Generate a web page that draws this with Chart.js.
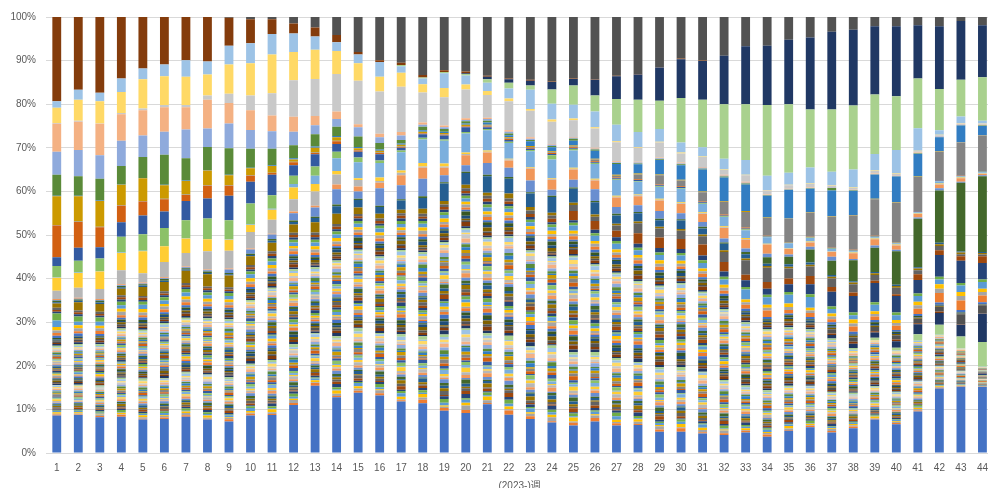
<!DOCTYPE html>
<html><head><meta charset="utf-8">
<style>
html,body{margin:0;padding:0;background:#fff;overflow:hidden;width:988px;height:488px}
#wrap{position:absolute;left:0;top:0;width:997px;height:488px}
</style>
<script src="https://cdn.jsdelivr.net/npm/chart.js@4.4.0/dist/chart.umd.min.js"></script>
</head><body><div id="wrap"><canvas id="c" width="997" height="488"></canvas></div>
<script>
// ---- categories & tick labels ----
const weeks = ['1','2','3','4','5','6','7','8','9','10','11','12','13','14','15','16','17','18','19','20','21','22','23','24','25','26','27','28','29','30','31','32','33','34','35','36','37','38','39','40','41','42','43','44'];
const yTickLabels = ['0%','10%','20%','30%','40%','50%','60%','70%','80%','90%','100%'];
const xTitle = '(2023-)週';

// ---- series read as percent of each week ----
const base = [8.6,8.7,8.2,8.3,7.7,7.8,8.3,7.7,7.2,8.6,8.7, 11.0,15.4,12.8,13.8,13.2,11.8,11.4,9.7,9.2,11.2,8.8, 7.8,7.0,6.3,7.2,6.3,6.4,4.9,4.9,4.5,4.1,4.7, 3.7,5.1,5.9,4.7,5.7,7.7,6.6,9.5,14.8,15.2,15.2];

const s30 = [0.4,0.4,0.4,0.4,0.4,0.4,0.4,0.4,0.4,0.4,0.4, 0.4,0.4,0.4,0.4,0.4,0.4,0.4,0.4,0.4,0.4,0.4, 0.4,0.4,0.4,0.4,0.4,0.4,0.4,0.4,0.4,0.4,0.4, 0.4,0.4,0.4,0.4,0.4,0.5,0.6,1.5,2.3,2.7,5.7];
const s31 = [0.4,0.4,0.4,0.4,0.4,0.4,0.4,0.4,0.4,0.4,0.4, 0.4,0.4,0.4,0.4,0.4,0.4,0.4,0.4,0.4,0.4,0.4, 0.4,0.4,0.4,0.4,0.4,0.4,0.4,0.4,0.4,0.4,0.4, 0.4,0.4,0.4,0.8,1.0,1.2,1.5,2.3,2.7,2.7,6.5];
const s33 = [0.4,0.4,0.4,0.4,0.4,0.4,0.4,0.4,0.4,0.4,0.4, 0.4,0.4,0.4,0.4,0.4,0.4,0.4,0.4,0.4,0.4,0.4, 0.4,0.4,0.4,0.4,0.4,0.4,0.4,0.4,0.4,0.4,0.4, 0.4,0.4,0.4,1.0,1.0,1.0,1.0,1.0,1.0,2.3,1.9];

const m1 = [0.5,0.6,0.5,0.4,0.6,0.5,0.5,0.6,0.4,0.5,0.6, 0.5,0.5,0.4,0.6,0.5,0.5,0.6,0.5,0.4,0.5,0.6, 0.5,0.5,0.4,0.6,0.5,0.5,0.6,0.4,0.5,0.5,0.6, 0.5,0.4,0.5,0.6,0.5,0.5,0.4,0.5,0.5,0.6,0.5];
const m2 = [0.6,0.5,0.7,0.6,0.5,0.6,0.7,0.5,0.6,0.6,0.5, 0.7,0.6,0.5,0.6,0.7,0.5,0.6,0.6,0.5,0.7,0.6, 0.5,0.6,0.8,0.7,0.6,0.8,0.7,0.6,0.8,0.7,0.9, 1.5,0.8,0.9,0.7,1.2,0.8,1.0,1.2,2.2,2.2,1.5];
const m3 = [0.6,0.7,0.6,0.8,0.6,0.7,0.6,0.6,0.7,0.6,0.8, 0.6,0.7,0.6,0.6,0.7,0.6,0.8,0.6,0.7,0.6,0.6, 0.7,0.6,0.6,0.7,0.6,0.6,0.7,0.6,0.6,0.7,0.6, 0.6,0.7,0.6,0.6,0.7,0.6,0.6,0.8,1.0,1.0,0.8];
const m4 = [0.8,0.7,0.6,0.7,0.8,0.6,0.7,0.7,0.6,0.8,0.7, 0.6,0.7,0.8,0.6,0.7,0.6,0.7,0.8,0.6,0.7,0.7, 0.6,0.8,0.7,0.6,0.7,0.6,0.8,0.7,0.6,0.7,0.6, 0.7,0.8,0.6,0.7,0.9,0.6,0.7,0.8,1.0,0.9,0.8];
const m5 = [1.5,0.8,0.9,0.8,1.0,0.8,0.9,0.8,0.8,0.9,0.8, 0.8,0.9,0.8,0.8,0.9,0.8,0.9,0.8,0.8,0.9,0.8, 0.9,0.8,1.2,1.2,1.3,1.1,1.2,1.2,1.3,1.2,2.3, 1.7,2.0,2.5,1.0,1.0,1.5,1.1,1.3,1.1,1.5,1.5];
const m6 = [1.6,1.2,1.0,0.8,0.7,0.7,0.8,0.6,0.7,0.6,0.7, 0.6,0.6,0.7,0.6,0.6,0.7,0.6,0.6,0.6,0.7,0.6, 0.6,0.6,0.6,0.6,0.6,0.6,0.6,0.6,0.6,0.6,0.6, 0.6,0.6,0.6,0.6,0.6,0.6,0.6,0.6,0.6,0.6,0.6];
const m7 = [0.4,0.5,0.4,0.5,0.4,0.5,0.4,0.5,0.4,0.5,0.6, 0.5,0.6,0.5,0.6,0.5,0.6,0.5,0.6,0.5,0.6,0.5, 0.6,0.5,0.6,0.8,0.9,0.9,1.0,0.9,1.1,1.2,1.5, 1.4,1.8,2.3,3.4,3.8,4.4,3.8,3.1,5.0,5.1,3.8];
const m8 = [0.4,0.5,0.4,0.5,0.5,0.4,0.5,0.5,0.4,0.5,0.5, 0.6,0.5,0.6,0.5,0.6,0.6,0.5,0.6,0.6,0.7,0.6, 0.7,0.8,2.1,2.0,1.5,2.4,2.4,2.3,2.5,2.2,1.3, 1.5,1.3,1.9,1.1,0.8,0.5,0.4,1.3,1.1,1.0,1.5];
const m9 = [0.5,0.4,0.5,0.5,0.4,0.5,0.5,0.4,0.5,0.5,0.6, 0.5,0.6,0.6,0.5,0.6,0.6,0.7,0.6,0.6,0.7,0.7, 0.8,0.8,1.4,1.0,1.2,2.3,2.1,1.9,1.9,2.3,3.3, 3.3,2.3,2.2,1.9,1.9,1.3,1.5,0.9,1.0,0.5,0.4];
const m10 = [1.0,1.9,1.8,1.5,2.1,2.1,2.8,2.8,2.7,2.0,1.9, 1.9,2.3,2.4,1.5,1.1,0.8,1.1,0.8,0.8,0.7,1.1, 0.8,0.6,0.5,0.5,0.4,0.4,0.4,0.4,0.4,0.4,0.4, 0.4,0.4,0.4,0.4,0.4,0.4,0.4,0.4,0.4,0.4,0.4];
const m11 = [0.3,0.3,0.3,0.3,0.3,0.3,0.3,0.3,0.3,0.3,0.5, 0.6,1.0,1.7,1.7,1.5,2.1,2.5,4.0,2.7,3.8,3.4, 3.1,3.6,3.2,2.8,1.9,1.9,1.5,1.9,1.4,1.5,1.0, 0.5,0.6,0.5,0.4,0.3,0.3,0.3,0.3,0.3,0.2,0.2];

const u12 = [0.3,0.3,0.4,0.3,0.3,0.4,0.3,0.3,0.3,0.3,0.4, 0.3,0.3,0.4,0.3,0.3,0.3,0.4,0.3,0.3,0.3,0.4, 0.3,0.3,0.3,0.3,0.4,0.3,0.3,0.3,0.4,0.3,0.5, 1.5,1.7,3.0,3.3,4.8,5.6,7.7,11.1,12.0,15.8,17.4];
const u13 = [0.2,0.2,0.2,0.2,0.2,0.2,0.2,0.3,0.8,1.0,1.0, 1.7,2.1,3.5,1.7,4.0,3.2,4.0,1.6,1.5,2.7,2.1, 2.7,1.4,1.8,2.7,1.5,1.5,1.8,1.4,1.1,0.9,0.8, 0.8,0.5,0.6,0.9,0.3,0.5,0.3,0.3,0.5,0.2,0.2];
const u14 = [0.2,0.2,0.2,0.2,0.2,0.2,0.2,0.2,0.2,0.2,0.2, 0.4,0.4,1.1,1.1,1.3,2.3,2.5,1.7,2.3,2.4,1.7, 2.7,2.3,2.3,2.0,2.2,2.1,2.4,2.1,1.8,2.4,2.0, 2.1,1.3,1.0,1.1,1.3,1.4,1.0,0.8,0.9,0.8,0.3];
const u15 = [1.9,2.3,2.3,3.2,2.1,3.5,3.1,4.2,4.1,3.8,3.2, 2.8,3.3,2.3,1.5,0.4,0.6,0.3,0.3,0.3,0.2,0.2, 0.2,0.2,0.2,0.2,0.2,0.2,0.2,0.2,0.2,0.2,0.2, 0.1,0.1,0.1,0.1,0.1,0.1,0.1,0.1,0.1,0.1,0.1];
const u16 = [3.0,3.4,4.0,4.0,5.1,3.6,3.3,2.7,2.5,1.6,2.3, 2.7,1.7,0.8,0.4,0.8,0.5,0.8,0.7,0.3,0.3,0.2, 0.2,0.2,0.2,0.2,0.2,0.2,0.2,0.2,0.2,0.2,0.2, 0.1,0.1,0.1,0.1,0.1,0.1,0.1,0.1,0.1,0.1,0.1];
const u17 = [0.1,0.1,0.1,0.1,0.1,0.1,0.1,0.1,0.1,0.1,0.2, 0.8,1.9,2.9,3.7,3.3,4.2,5.4,5.2,4.4,4.6,3.6, 3.6,4.2,4.0,3.4,3.6,2.9,2.7,3.1,1.9,2.1,1.8, 1.5,1.1,0.8,0.5,0.3,0.3,0.3,0.2,0.5,0.2,0.2];
const u18 = [2.6,2.7,2.9,3.6,3.8,4.1,4.1,4.7,4.4,4.8,3.1, 1.9,2.1,1.5,1.1,0.6,0.4,0.4,0.3,0.3,0.3,0.3, 0.3,1.0,0.3,0.2,0.2,0.2,0.2,0.2,0.2,0.2,0.2, 0.1,0.1,0.1,0.1,0.1,0.1,0.1,0.1,0.1,0.1,0.1];
const u19 = [2.0,3.0,2.6,3.3,4.3,3.8,4.4,4.6,5.6,5.0,4.7, 2.4,2.8,1.8,1.3,1.4,0.6,0.8,0.9,1.1,0.4,0.4, 0.3,0.3,0.2,0.2,0.2,0.2,0.2,0.2,0.2,0.2,0.2, 0.1,0.1,0.1,0.1,0.1,0.1,0.1,0.1,0.1,0.1,0.1];
const u20 = [7.3,5.9,4.6,3.8,3.2,2.8,1.4,2.9,2.3,1.4,0.4, 0.7,0.3,0.6,0.3,0.3,0.2,0.2,0.2,0.2,0.2,0.2, 0.2,0.2,0.2,0.2,0.2,0.2,0.2,0.2,0.2,0.2,0.2, 0.1,0.1,0.1,0.1,0.1,0.1,0.1,0.1,0.1,0.1,0.1];
const u21 = [0.1,0.1,0.1,0.1,0.1,0.1,0.1,0.1,0.1,0.1,0.1, 0.1,0.1,0.1,0.1,0.1,0.1,0.1,0.1,0.1,0.2,0.2, 0.2,0.2,0.2,0.4,0.4,1.1,2.1,1.3,2.1,2.9,3.6, 4.1,5.3,5.5,7.1,7.9,8.4,9.0,7.8,6.5,7.5,8.1];
const u22 = [6.6,5.8,5.9,4.7,5.2,3.1,3.1,3.4,2.3,1.6,1.5, 0.5,1.1,0.8,0.4,0.4,0.4,0.3,0.3,0.3,0.2,0.2, 0.2,0.2,0.2,0.2,0.2,0.2,0.2,0.2,0.2,0.2,0.2, 0.1,0.1,0.1,0.1,0.1,0.1,0.1,0.1,0.1,0.1,0.1];
const u23 = [0.1,0.1,0.1,0.1,0.1,0.1,0.1,0.1,0.1,0.1,0.2, 0.3,0.3,0.3,0.3,0.3,0.3,0.3,0.3,0.3,0.5,0.5, 1.1,0.9,1.1,1.8,2.5,2.1,3.3,3.3,5.0,5.4,6.1, 5.0,6.5,5.4,5.9,5.5,5.5,5.9,5.2,3.2,3.8,2.1];
const u24 = [4.8,4.5,5.0,4.2,4.8,6.9,5.1,5.3,6.1,4.4,3.8, 3.0,2.8,2.1,2.4,1.5,0.8,0.8,0.6,0.5,0.4,0.4, 0.3,0.3,0.5,0.3,0.2,0.2,0.2,0.2,0.2,0.2,0.2, 0.1,0.1,0.1,0.6,0.1,0.1,0.1,0.1,0.1,0.1,0.1];
const u25 = [5.3,6.0,5.4,5.8,4.9,5.3,6.6,4.2,5.7,4.3,4.0, 3.1,2.1,1.8,2.1,1.3,1.0,0.5,0.4,0.3,0.4,0.4, 0.3,0.3,0.2,0.2,0.2,0.2,0.2,0.2,0.2,0.2,0.2, 0.1,0.1,0.1,0.1,0.1,0.1,0.1,0.1,0.1,0.1,0.1];
const u26 = [6.4,6.5,7.2,6.1,5.8,5.6,5.1,6.6,4.7,4.5,3.6, 3.4,2.1,1.7,0.7,0.8,0.8,0.5,0.4,0.4,0.3,0.3, 0.3,0.2,0.2,0.2,0.2,0.2,0.2,0.2,0.2,0.2,0.2, 0.1,0.1,0.1,0.1,0.1,0.1,0.1,0.1,0.1,0.1,0.1];
const u27 = [0.2,0.2,0.1,0.3,0.4,0.5,0.5,1.0,2.1,3.4,5.1, 8.4,8.5,8.6,10.0,9.7,10.4,6.9,6.5,6.6,5.2,6.7, 6.1,5.1,3.8,4.4,4.4,3.2,3.4,2.1,2.3,1.1,1.5, 0.9,0.8,0.8,0.3,0.4,0.6,0.3,0.3,0.2,0.2,0.2];
const u28 = [3.5,4.8,5.1,4.8,6.7,6.6,6.5,4.8,6.7,7.4,8.9, 6.5,6.7,5.3,4.0,3.4,3.2,1.9,2.1,1.1,0.9,0.6, 0.4,0.5,0.4,0.3,0.2,0.2,0.2,0.2,0.1,0.1,0.1, 0.1,0.1,0.1,0.1,0.1,0.1,0.1,0.1,0.1,0.1,0.1];
const u29 = [1.5,2.3,1.9,3.1,2.5,2.7,3.8,3.0,4.3,4.6,4.7, 4.2,3.0,2.0,2.0,3.4,1.5,1.3,3.4,2.1,1.9,2.3, 4.4,3.6,3.2,3.6,3.8,3.4,2.9,2.3,2.1,2.5,3.4, 3.3,2.8,3.7,3.1,4.1,3.8,5.4,5.2,1.0,1.5,0.6];
const u30 = [0,0,0,0,0,0,0,0,0,0,0, 0,0,0,0,0,0.3,0.2,0.3,0.3,0.8,1.3, 1.0,3.3,4.4,3.7,5.9,7.4,6.5,10.2,10.9,12.5,12.8, 16.2,15.7,13.3,14.3,14.7,13.6,12.3,11.4,9.5,8.4,10.0];
const u31 = [0,0,0,0,0,0,0,0,0,0,0, 0,0,0,0,0,0,0,0,0.2,0.6,0.8, 1.1,1.7,1.5,3.6,5.2,5.8,7.6,8.9,8.9,11.1,13.3, 13.6,14.8,16.5,17.8,17.4,15.7,16.1,12.2,14.4,13.5,11.9];
const u32 = [19.3,16.7,17.4,14.1,11.8,10.9,9.9,10.2,6.4,5.5,3.4, 2.3,2.1,1.7,0.6,0.4,0.5,0.6,0.4,0.4,0.2,0.2, 0.2,0.1,0.1,0.1,0.1,0.1,0.1,0.2,0.1,0,0, 0,0,0,0,0,0,0,0,0,0,0];
const u33 = [0,0,0,0,0,0,0,0,0.2,0.5,0.5, 1.5,2.4,4.1,8.0,9.9,10.5,13.3,12.2,12.5,13.5,14.1, 14.4,14.8,14.1,14.3,13.5,13.1,11.5,9.5,10.0,8.9,6.7, 6.6,5.2,4.7,3.4,2.9,2.1,2.1,1.9,2.1,0.9,1.9];

// ---- many thin series: relative sizes, estimated (they share what is left of each week) ----
const a02=[2,1,2,3,1,2,2,1,3,2,1, 2,3,1,2,2,1,3,2,2,1,3, 2,1,2,3,2,1,2,3,1,2,2, 3,1,2,2,3,1,2,2,1,1,1];
const a03=[1,2,3,1,2,2,3,1,2,1,2, 3,1,2,2,3,1,2,1,3,2,1, 2,3,1,2,1,2,3,1,2,3,1, 2,2,1,3,2,1,2,3,1,1,1];
const a04=[3,2,1,2,3,1,2,3,1,2,3, 1,2,3,2,1,2,3,1,2,3,2, 1,2,3,1,2,2,1,3,2,1,2, 1,3,2,1,2,3,1,2,1,1,1];
const a05=[2,3,2,1,2,3,1,2,2,3,1, 2,2,1,3,2,3,1,2,2,1,2, 3,2,1,2,3,1,2,2,3,1,2, 3,2,1,2,2,1,3,2,1,1,1];
const a06=[1,2,2,3,1,2,3,2,1,2,2, 3,1,2,1,3,2,2,3,1,2,3, 1,2,2,1,3,2,1,2,1,3,2, 2,1,3,1,2,2,1,3,1,1,1];
const a07=[2,1,3,2,2,1,2,3,2,1,3, 2,2,3,1,2,1,2,2,3,1,2, 2,3,1,2,2,3,2,1,2,2,3, 1,2,2,3,1,2,2,1,1,1,1];
const a08=[1,3,1,2,3,2,1,2,3,2,1, 1,3,2,2,1,3,2,1,2,2,3, 1,1,3,2,1,2,3,2,1,3,1, 2,3,1,2,3,2,1,2,1,1,1];
const a09=[3,1,2,2,1,3,2,1,2,3,2, 2,1,2,3,2,2,1,3,2,1,2, 2,2,1,3,2,1,2,3,2,2,1, 3,2,2,1,2,3,2,1,1,1,1];
const a10=[2,2,1,3,2,1,3,2,1,2,2, 1,3,2,1,2,3,2,2,1,3,1, 3,2,2,1,2,3,1,2,2,1,3, 2,1,2,2,3,1,2,2,1,1,1];
const a11=[1,2,3,1,3,2,2,1,3,1,2, 2,2,1,3,2,1,3,2,2,2,1, 2,3,2,2,1,2,2,3,1,2,2, 1,2,3,2,1,2,3,1,1,1,1];
const a12=[2,3,1,2,1,2,1,3,2,2,1, 3,2,2,1,3,2,1,2,3,1,2, 1,2,3,1,2,2,3,1,2,3,1, 2,2,1,3,2,1,2,2,1,1,1];
const a13=[3,2,2,1,2,3,2,2,1,3,2, 1,2,3,2,1,2,2,3,1,2,3, 2,1,2,3,1,2,2,2,3,1,2, 2,3,2,1,2,2,1,3,1,1,1];
const a14=[1,1,2,3,2,1,3,2,2,1,3, 2,1,2,2,3,1,2,1,2,3,2, 2,3,1,2,2,1,3,2,1,2,3, 1,2,2,3,1,2,3,2,1,1,1];
const a15=[2,2,3,1,2,2,1,3,2,2,1, 3,2,1,3,2,2,3,1,2,2,1, 3,2,2,1,3,2,1,2,3,2,1, 3,1,2,2,3,1,2,2,1,1,1];
const a16=[3,1,2,2,3,1,2,1,3,2,2, 1,3,2,2,1,3,1,2,3,1,2, 2,1,3,2,2,3,1,2,2,1,2, 2,3,1,2,2,3,1,2,1,1,1];
const a17=[1,2,1,3,2,2,3,2,1,2,3, 2,2,1,2,3,1,2,3,2,2,3, 1,2,2,3,1,2,2,3,2,1,3, 1,2,3,1,2,2,3,1,1,1,1];
const a18=[2,3,2,2,1,3,1,2,2,3,1, 2,1,3,2,2,3,2,1,2,1,2, 3,2,1,2,3,1,3,1,2,3,2, 2,1,2,3,1,3,2,2,1,1,1];
const a19=[2,1,3,2,2,1,2,3,1,2,2, 3,2,2,1,2,2,3,2,1,3,2, 1,3,2,2,1,2,2,3,1,2,2, 3,2,1,2,3,2,1,3,1,1,1];
const a20=[1,2,2,1,3,2,2,1,3,1,2, 2,3,1,2,3,2,1,2,2,3,1, 2,2,3,1,2,3,2,1,3,3,2, 3,2,3,2,2,3,2,3,2,2,2];
const a21=[3,2,1,2,2,3,1,2,2,2,3, 1,2,2,3,1,2,2,3,2,1,2, 2,1,2,3,2,2,1,2,2,3,1, 2,3,2,1,2,2,3,1,1,1,1];
const a22=[2,2,2,3,1,2,2,3,1,3,1, 2,2,3,1,2,3,1,2,2,2,3, 1,2,2,2,3,1,2,3,2,1,2, 2,2,3,2,1,2,2,3,1,1,1];
const a23=[1,3,2,1,2,2,3,1,2,2,2, 3,1,2,2,3,1,2,2,3,2,1, 3,2,1,2,2,3,2,1,2,2,3, 1,2,2,2,3,1,2,2,1,1,1];
const a24=[2,1,2,2,3,1,2,2,3,1,3, 2,2,1,3,2,2,1,3,1,2,2, 2,3,2,1,2,2,3,2,1,3,2, 2,3,1,2,2,3,2,1,1,1,1];
const a25=[3,2,1,3,2,2,1,3,2,2,1, 2,3,2,1,2,3,2,2,1,3,2, 2,1,2,3,1,2,2,3,2,2,1, 3,2,2,1,3,2,2,2,1,1,1];
const a26=[2,3,2,1,2,3,2,1,2,3,2, 2,1,3,2,2,1,2,3,2,2,1, 3,2,2,1,3,2,1,2,3,1,2, 2,2,3,1,2,2,1,3,1,1,1];
const a27=[1,2,3,2,2,1,3,2,2,1,2, 3,2,1,2,3,2,2,1,3,2,2, 1,3,2,2,2,1,3,2,2,3,1, 2,1,2,3,2,1,2,2,1,1,1];
const a28=[2,2,1,2,3,2,2,3,1,2,3, 1,2,2,3,2,1,3,2,2,1,3, 2,2,1,2,3,2,2,1,3,2,2, 1,3,2,2,1,3,2,1,1,1,1];
const a29=[3,1,2,3,1,2,3,2,2,1,2, 2,3,1,2,2,3,1,2,3,2,1, 2,3,2,1,2,2,3,1,2,2,3, 2,1,3,2,2,1,3,2,1,1,1];
const a30=[1,2,2,2,3,1,2,1,3,2,2, 3,1,2,3,1,2,3,2,1,2,3, 1,2,2,3,2,1,2,3,1,2,2, 3,2,1,2,3,2,2,1,1,1,1];
const a31=[2,3,1,2,2,3,1,2,2,3,1, 2,2,3,1,2,2,1,3,2,2,2, 3,1,2,2,1,3,2,2,3,1,2, 2,3,2,1,2,3,1,3,1,1,1];
const a32=[1,2,3,1,2,2,3,2,1,2,3, 2,1,2,2,3,1,2,2,1,3,2, 2,1,3,2,2,2,3,1,2,3,2, 3,2,3,2,2,3,2,2,1,1,1];
const a33=[2,2,2,3,1,2,2,1,3,2,2, 1,3,2,1,2,3,2,1,2,2,3, 2,2,1,3,2,1,2,2,1,2,3, 1,2,2,3,1,2,3,2,1,1,1];
const a34=[3,1,2,2,2,3,1,2,2,1,3, 2,2,1,3,2,2,3,1,2,3,1, 2,3,2,2,1,2,3,2,2,1,2, 2,3,1,2,2,1,2,3,1,1,1];
const a35=[1,2,3,2,1,2,3,1,2,3,2, 2,1,2,2,3,1,2,3,2,1,2, 3,2,1,2,3,2,1,3,2,2,1, 2,2,3,2,1,3,2,2,1,1,1];
const a36=[2,2,1,3,2,1,2,3,2,2,1, 3,2,2,1,2,3,1,2,2,3,2, 1,2,3,1,2,2,2,3,1,2,3, 2,1,2,2,3,2,1,2,1,1,1];
const b01=[2,3,2,1,2,2,3,1,2,2,3, 1,2,3,2,1,2,2,3,1,2,2, 3,2,1,2,2,3,1,2,3,2,1, 2,2,1,3,2,2,1,2,1,1,1];
const b02=[1,2,2,3,1,2,2,3,2,1,2, 3,2,1,2,2,3,1,2,2,3,1, 2,2,3,1,2,3,2,2,3,2,3, 2,3,2,3,2,3,3,2,2,2,2];
const b03=[3,2,1,2,2,3,1,2,3,2,2, 1,2,2,3,1,2,3,2,1,2,2, 1,3,2,2,1,2,2,3,1,2,2, 3,1,2,2,1,3,2,2,1,1,1];
const b04=[2,1,3,2,2,1,3,2,1,2,3, 2,2,1,3,2,1,2,2,3,1,2, 3,1,2,2,3,1,2,2,2,3,1, 2,2,3,1,2,2,3,1,1,1,1];
const b05=[1,3,2,2,1,3,2,2,2,1,3, 2,1,3,2,2,2,1,3,2,2,1, 2,3,1,2,2,3,2,1,3,2,2, 1,2,2,3,2,1,2,2,1,1,1];
const b06=[2,2,2,1,3,2,1,3,2,2,1, 3,2,2,1,3,2,2,1,2,3,2, 2,1,3,2,1,2,3,2,1,2,3, 2,2,1,2,3,2,1,3,1,1,1];
const b07=[3,1,2,3,2,1,2,2,3,1,2, 2,3,2,2,1,3,2,2,1,2,3, 1,2,2,3,2,1,2,3,2,3,2, 3,2,3,2,3,3,4,3,2,3,6];
const b08=[1,2,3,1,2,3,2,1,2,3,2, 1,2,2,3,2,1,2,3,2,2,1, 3,2,2,1,3,2,3,2,3,2,3, 2,3,2,3,2,3,2,3,2,2,2];
const b09=[2,3,1,2,2,2,3,1,2,2,3, 2,1,3,2,2,2,3,1,2,1,3, 2,2,1,3,2,2,3,2,2,3,2, 3,2,3,2,3,2,3,2,2,2,2];
const b10=[2,1,2,3,1,2,2,3,1,2,2, 3,2,1,2,3,1,2,2,3,2,2, 1,3,2,2,2,1,3,2,2,1,3, 2,2,3,1,2,3,2,2,1,1,1];
const b11=[3,2,2,1,3,2,1,2,3,2,1, 2,3,2,1,2,3,2,2,1,3,2, 2,1,3,2,2,3,1,2,2,3,2, 1,3,2,2,3,1,2,2,1,1,1];
const b12=[1,2,3,2,2,1,3,2,2,1,3, 2,2,1,3,2,2,1,3,2,2,3, 1,2,2,3,1,2,2,3,2,2,1, 3,2,2,1,2,3,2,1,1,1,1];
const b13=[2,3,1,2,3,2,2,1,2,3,2, 1,2,3,2,1,2,3,1,2,2,2, 3,1,2,2,3,2,1,2,3,1,2, 2,3,1,2,2,2,3,2,1,1,1];
const b14=[2,1,2,3,2,2,1,3,2,1,2, 3,1,2,2,3,2,2,1,3,2,1, 2,3,2,1,2,2,3,1,2,3,2, 2,1,3,2,2,3,1,2,1,1,1];
const b15=[3,2,2,1,2,3,2,2,1,3,2, 2,3,1,2,2,1,3,2,2,3,2, 1,2,3,2,2,1,3,2,1,2,3, 1,2,2,3,1,2,2,3,1,1,1];
const b16=[1,2,3,2,1,2,3,1,2,2,3, 2,1,2,3,2,2,1,3,1,2,3, 2,2,1,2,3,2,2,3,1,2,2, 3,2,1,2,3,2,1,2,1,1,1];
const b17=[2,3,2,2,3,1,2,2,3,1,2, 1,3,2,2,1,3,2,2,3,1,2, 3,1,2,3,2,1,2,2,3,2,1, 2,3,2,1,2,2,3,1,1,1,1];
const b18=[2,2,1,3,2,2,1,3,2,2,1, 3,2,2,1,2,3,2,1,2,3,2, 2,3,1,2,2,3,1,2,2,1,3, 2,1,3,2,2,1,2,3,1,1,1];
const b19=[1,3,2,2,1,3,2,2,1,3,2, 2,1,3,2,2,1,3,2,2,2,1, 3,2,2,1,3,2,2,1,3,2,2, 1,2,3,2,1,3,2,2,1,1,1];
const b20=[3,1,2,2,3,1,2,3,2,1,2, 2,3,1,2,3,2,1,2,2,1,3, 2,2,3,1,2,2,3,2,3,3,3, 3,2,3,3,2,3,2,3,2,2,2];
const b21=[2,2,3,1,2,2,3,1,2,2,3, 1,2,2,3,1,2,2,3,2,1,2, 2,1,3,2,2,1,2,3,2,2,1, 3,2,2,1,3,2,2,2,1,1,1];
const b22=[1,2,2,3,2,1,2,2,3,2,1, 3,2,2,1,2,3,2,1,2,3,2, 1,3,2,2,1,3,2,2,1,3,2, 2,3,1,2,2,3,2,1,1,1,1];
const b23=[2,3,1,2,2,3,1,2,2,1,3, 2,2,1,3,2,2,3,1,2,2,3, 2,1,2,3,2,2,1,3,2,1,2, 3,2,2,1,2,3,2,2,1,1,1];
const b24=[3,2,2,1,3,2,2,1,3,2,2, 1,3,2,2,2,1,3,2,2,1,2, 3,2,2,1,3,2,2,1,2,3,2, 2,1,3,2,2,1,3,2,1,1,1];
const b25=[1,2,3,2,1,2,3,2,2,3,1, 2,2,3,1,2,2,2,3,1,2,3, 2,2,1,2,3,1,2,3,2,2,1, 3,2,2,3,1,2,2,3,1,1,1];
const b26=[2,1,2,3,2,2,1,3,2,2,2, 3,1,2,2,3,1,2,2,3,2,2, 1,3,2,2,2,3,1,2,2,3,2, 2,3,2,2,3,2,2,1,2,2,1];
const b27=[3,2,2,1,2,3,2,2,1,2,3, 2,2,1,3,2,2,1,2,3,2,1, 3,2,2,1,2,3,2,2,1,3,2, 2,1,2,3,2,2,1,2,1,1,1];
const b28=[2,2,1,3,2,1,3,2,2,2,1, 3,2,2,1,3,2,2,2,1,3,2, 2,1,3,2,2,1,3,2,2,1,2, 3,2,2,1,3,2,2,2,1,1,1];
const b29=[1,3,2,2,2,3,1,2,3,1,2, 2,3,1,2,2,3,2,1,2,2,3, 1,2,2,3,2,1,2,3,2,2,3, 1,2,2,3,2,1,2,2,1,1,1];
const b32=[2,2,3,1,2,2,3,1,2,2,2, 3,1,2,2,3,2,1,2,3,2,2, 2,1,3,2,2,3,2,2,3,2,3, 2,3,3,2,3,2,3,2,2,1,1];
const b34=[1,2,2,3,2,1,2,3,2,2,1, 2,3,2,1,2,3,2,2,1,3,2, 2,3,1,2,2,3,2,1,2,3,2, 2,3,1,2,3,2,2,2,1,1,1];
const b35=[2,3,1,2,2,3,2,1,2,3,2, 2,1,3,2,2,1,3,2,2,2,1, 3,2,2,1,3,2,2,3,1,2,3, 2,2,3,2,2,3,2,1,1,1,1];
const b36=[3,1,2,2,3,1,2,2,2,1,3, 2,2,1,3,2,2,2,1,3,2,2, 1,3,2,2,1,2,3,2,2,3,1, 2,3,2,2,1,3,2,2,1,1,1];

// ---- styles (series colour cycle) ----
const palette = ['#4472C4','#ED7D31','#A5A5A5','#FFC000','#5B9BD5','#70AD47',
 '#264478','#9E480E','#636363','#997300','#255E91','#43682B',
 '#698ED0','#F1975A','#B7B7B7','#FFCD33','#7CAFDD','#8CC168',
 '#335AA1','#D26012','#848484','#CC9A00','#327DC2','#5A8A39',
 '#8FAADC','#F4B183','#C9C9C9','#FFD966','#9DC3E6','#A9D18E',
 '#203864','#843C0C','#525252','#806000','#1F4E79','#385723'];
const col = k => palette[(k - 1) % 36];

// ---- build layers (bottom to top) ----
const layers = [];
layers.push({v: base, c: col(1), pct: true});
[a02,a03,a04,a05,a06,a07,a08,a09,a10,a11,a12,a13,a14,a15,a16,a17,a18,a19,a20,a21,a22,a23,a24,a25,a26,a27,a28,a29,a30,a31,a32,a33,a34,a35,a36]
  .forEach((w, i) => layers.push({v: w, c: col(i + 2), pct: false}));
[b01,b02,b03,b04,b05,b06,b07,b08,b09,b10,b11,b12,b13,b14,b15,b16,b17,b18,b19,b20,b21,b22,b23,b24,b25,b26,b27,b28,b29]
  .forEach((w, i) => layers.push({v: w, c: col(i + 1), pct: false}));
layers.push({v: s30, c: col(30), pct: true});
layers.push({v: s31, c: col(31), pct: true});
layers.push({v: b32, c: col(32), pct: false});
layers.push({v: s33, c: col(33), pct: true});
[b34,b35,b36].forEach((w, i) => layers.push({v: w, c: col(34 + i), pct: false}));
[m1,m2,m3,m4,m5,m6,m7,m8,m9,m10,m11].forEach((m, i) => layers.push({v: m, c: col(i + 1), pct: true}));
[u12,u13,u14,u15,u16,u17,u18,u19,u20,u21,u22,u23,u24,u25,u26,u27,u28,u29,u30,u31,u32,u33]
  .forEach((u, i) => layers.push({v: u, c: col(12 + i), pct: true}));

const N = weeks.length;
const out = layers.map(() => new Array(N).fill(0));
for (let n = 0; n < N; n++) {
  let fixed = 0, W = 0;
  layers.forEach(L => { const x = L.v[n] || 0; if (L.pct) fixed += x; else W += x; });
  const R = Math.max(0, 100 - fixed);
  const total = fixed + (W > 0 ? R : 0);
  layers.forEach((L, i) => {
    const x = L.v[n] || 0;
    const val = L.pct ? x : (W > 0 ? x * R / W : 0);
    out[i][n] = val * 100 / total;
  });
}

const datasets = layers.map((L, i) => ({
  data: out[i], backgroundColor: L.c, borderWidth: 0,
  barPercentage: 1, categoryPercentage: 0.41, stack: 's'
}));

const FONT = "'Liberation Sans', 'Noto Sans CJK JP', sans-serif";
Chart.defaults.font.family = FONT;
Chart.defaults.font.size = 10;
Chart.defaults.color = '#595959';

new Chart(document.getElementById('c'), {
  type: 'bar',
  data: { labels: weeks, datasets },
  options: {
    responsive: false, animation: false, devicePixelRatio: 1,
    layout: { padding: { top: 17, left: 0, right: 0, bottom: 0 } },
    plugins: { legend: { display: false }, tooltip: { enabled: false } },
    scales: {
      x: {
        stacked: true,
        grid: { display: false, drawTicks: false },
        border: { display: true, color: '#D9D9D9', width: 1 },
        ticks: { padding: 9, maxRotation: 0, autoSkip: false, color: '#595959', font: { size: 10 } },
        title: { display: true, text: xTitle, color: '#595959', font: { size: 10, lineHeight: 1.2 }, padding: { top: 0, bottom: -4.5 } },
        afterFit(s) { s.height = 35; }
      },
      y: {
        stacked: true, min: 0, max: 100,
        grid: { color: '#D9D9D9', drawTicks: false, lineWidth: 1 },
        border: { display: false },
        ticks: { stepSize: 10, padding: 10, color: '#595959', font: { size: 10 },
                 callback: (v, i) => yTickLabels[i] },
        afterFit(s) { s.width = 46; }
      }
    }
  }
});
</script>
</body></html>
